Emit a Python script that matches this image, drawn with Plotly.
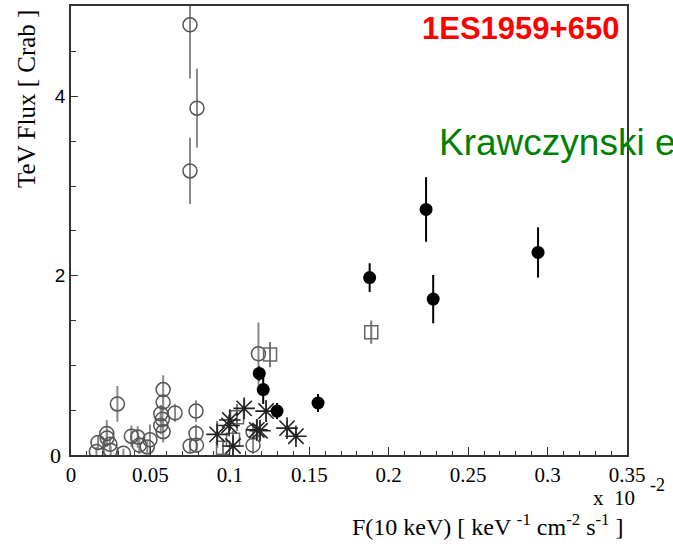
import plotly.graph_objects as go

# Open circles
oc_x = [0.0749, 0.0793, 0.0749, 0.118, 0.0292, 0.058, 0.058, 0.0565, 0.0575, 0.058,
        0.0655, 0.0787, 0.0787, 0.075, 0.0225, 0.0227, 0.017, 0.016, 0.0245, 0.025,
        0.033, 0.038, 0.042, 0.043, 0.0497, 0.048, 0.1146, 0.1146, 0.0565, 0.079]
oc_y = [4.80, 3.87, 3.17, 1.13, 0.57, 0.73, 0.59, 0.46, 0.40, 0.26,
        0.47, 0.49, 0.24, 0.10, 0.24, 0.19, 0.14, 0.04, 0.12, 0.05,
        0.02, 0.21, 0.20, 0.11, 0.17, 0.09, 0.26, 0.11, 0.33, 0.11]
oc_e = [0.60, 0.44, 0.37, 0.35, 0.20, 0.16, 0.10, 0.10, 0.10, 0.12,
        0.10, 0.12, 0.10, 0.08, 0.15, 0.10, 0.08, 0.05, 0.08, 0.05,
        0.05, 0.12, 0.12, 0.10, 0.17, 0.07, 0.10, 0.10, 0.10, 0.08]

# Filled circles
fc_x = [0.188, 0.2235, 0.228, 0.294, 0.1555, 0.1297, 0.1185, 0.121]
fc_y = [1.98, 2.74, 1.74, 2.26, 0.58, 0.49, 0.91, 0.73]
fc_e = [0.16, 0.36, 0.27, 0.28, 0.10, 0.09, 0.08, 0.16]

# Open squares
sq_x = [0.189, 0.1253, 0.1045, 0.102, 0.0957]
sq_y = [1.37, 1.12, 0.42, 0.17, 0.08]
sq_e = [0.13, 0.14, 0.15, 0.10, 0.10]

# Stars
st_x = [0.109, 0.1228, 0.100, 0.0995, 0.092, 0.117, 0.119, 0.136, 0.1416, 0.102]
st_y = [0.52, 0.49, 0.39, 0.33, 0.23, 0.28, 0.27, 0.30, 0.21, 0.10]
st_e = [0.10, 0.12, 0.11, 0.10, 0.15, 0.12, 0.10, 0.08, 0.08, 0.10]

x_ticks = [0, 0.05, 0.1, 0.15, 0.2, 0.25, 0.3, 0.35]
x_labels = ["0", "0.05", "0.1", "0.15", "0.2", "0.25", "0.3", "0.35"]
y_ticks = [2, 4]
y_labels = ["2", "4"]

fig = go.Figure()

fig.add_trace(go.Scatter(
    x=oc_x, y=oc_y, mode="markers",
    marker=dict(symbol="circle-open", size=14, color="#555555", line=dict(width=1.5, color="#555555")),
    error_y=dict(type="data", array=oc_e, color="#8a8a8a", thickness=2, width=0),
    showlegend=False))
fig.add_trace(go.Scatter(
    x=sq_x, y=sq_y, mode="markers",
    marker=dict(symbol="square-open", size=13, color="#666666", line=dict(width=1.5, color="#666666")),
    error_y=dict(type="data", array=sq_e, color="#777777", thickness=2, width=0),
    showlegend=False))
fig.add_trace(go.Scatter(
    x=st_x, y=st_y, mode="markers",
    marker=dict(symbol="asterisk-open", size=18, color="#222222", line=dict(width=1.6, color="#222222")),
    error_y=dict(type="data", array=st_e, color="#777777", thickness=2, width=0),
    showlegend=False))
fig.add_trace(go.Scatter(
    x=fc_x, y=fc_y, mode="markers",
    marker=dict(symbol="circle", size=13, color="black"),
    error_y=dict(type="data", array=fc_e, color="black", thickness=2, width=0),
    showlegend=False))

axis_common = dict(showgrid=False, zeroline=False, showline=True, linecolor="#333333",
                   linewidth=1.5, mirror=True, ticks="inside", tickcolor="#333333")

fig.update_xaxes(range=[0, 0.35], tickvals=x_ticks, ticktext=x_labels, ticklen=8, tickwidth=1.2,
                 tickfont=dict(family="Liberation Serif", size=21, color="black"),
                 minor=dict(ticks="inside", dtick=0.01, ticklen=4, tickcolor="#333333", tickwidth=1),
                 **axis_common)
fig.update_yaxes(range=[0, 5.01], tickvals=y_ticks, ticktext=y_labels, ticklen=7, tickwidth=1.2,
                 tickfont=dict(family="Liberation Sans", size=19, color="black"),
                 minor=dict(ticks="inside", dtick=0.5, ticklen=5, tickcolor="#333333", tickwidth=1),
                 **axis_common)

fig.update_layout(
    width=673, height=548,
    margin=dict(l=71, r=46, t=4, b=93),
    paper_bgcolor="white", plot_bgcolor="white",
    annotations=[
        dict(text="0", xref="paper", yref="paper", x=-0.015, y=0.0, xanchor="right", yanchor="middle",
             showarrow=False, font=dict(family="Liberation Serif", size=22, color="black")),
        dict(text="TeV Flux [ Crab ]", xref="paper", yref="paper", x=-0.08, y=0.792, textangle=-90,
             xanchor="center", yanchor="middle", showarrow=False,
             font=dict(family="Liberation Serif", size=25, color="black")),
        dict(text="F(10 keV) [ keV <sup>-1</sup> cm<sup>-2</sup> s<sup>-1</sup> ]", xref="paper", yref="paper",
             x=0.996, y=-0.157, xanchor="right", yanchor="middle", showarrow=False,
             font=dict(family="Liberation Serif", size=24, color="black")),
        dict(text="x&nbsp;&nbsp;10", xref="paper", yref="paper",
             x=0.935, y=-0.095, xanchor="left", yanchor="middle", showarrow=False,
             font=dict(family="Liberation Serif", size=21, color="black")),
        dict(text="-2", xref="paper", yref="paper",
             x=1.038, y=-0.066, xanchor="left", yanchor="middle", showarrow=False,
             font=dict(family="Liberation Serif", size=18, color="black")),
        dict(text="<b>1ES1959+650</b>", xref="paper", yref="paper", x=0.628, y=0.949,
             xanchor="left", yanchor="middle", showarrow=False,
             font=dict(family="Liberation Sans", size=31, color="#ff0000")),
        dict(text="Krawczynski e", xref="paper", yref="paper", x=0.658, y=0.696,
             xanchor="left", yanchor="middle", showarrow=False,
             font=dict(family="Liberation Sans", size=37, color="#008000")),
    ],
)

fig.write_html("out.html")
